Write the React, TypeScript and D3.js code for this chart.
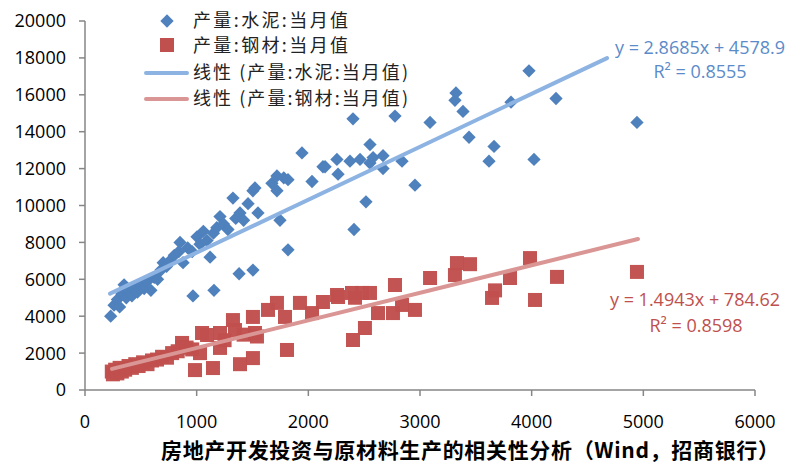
import * as d3 from 'd3'

// 水泥 (cement) monthly output vs investment
const cementX = [230, 260, 290, 310, 330, 350, 370, 390, 420, 440, 470, 500, 530, 560, 590, 620, 650, 680, 700, 730,
    760, 800, 840, 851, 878, 920, 960, 1003, 1030, 1060, 1093, 1120, 1150, 1180, 1209, 1240, 1280, 1325, 1350, 1388,
    1420, 1460, 1504, 1522, 1549, 1674, 1719, 1719, 1746, 1780, 1818, 1818, 1943, 2033, 2131, 2150, 2256, 2266, 2373, 2400,
    2409, 2463, 2516, 2552, 2552, 2580, 2669, 2669, 2776, 2839, 2955, 3090, 3313, 3322, 3385, 3439, 3618, 3663, 3815, 3976,
    4021, 4218, 4943, 967, 1155, 1380, 1504]
const cementY = [4000, 4600, 4900, 4500, 5200, 5700, 5000, 5400, 5100, 5500, 5300, 5700, 5500, 5900, 5400, 6100, 6000, 6500, 6900, 6700,
    7000, 7300, 7500, 8000, 6900, 7700, 7500, 8300, 7900, 8600, 8100, 7200, 8500, 8800, 9400, 9000, 8700, 10400, 9300, 9600,
    9200, 10100, 10800, 10950, 9600, 11200, 11600, 10800, 9200, 11500, 11400, 7600, 12850, 11300, 12100, 12100, 12500, 11700, 12400, 14700,
    8700, 12500, 10200, 13300, 12300, 12600, 12700, 12000, 14850, 12400, 11100, 14500, 15700, 16100, 15100, 13700, 12400, 13200, 15600, 17300,
    12500, 15800, 14500, 5100, 5400, 6300, 6500]

// 钢材 (steel)
const steelX = [240, 250, 270, 290, 310, 330, 360, 390, 420, 450, 480, 520, 560, 600, 645, 690, 734, 780, 830, 869,
    869, 910, 960, 985, 1030, 1048, 1093, 1146, 1209, 1209, 1250, 1325, 1343, 1388, 1420, 1504, 1504, 1522, 1540, 1639,
    1719, 1791, 1809, 1925, 2033, 2131, 2266, 2257, 2391, 2400, 2418, 2481, 2507, 2552, 2624, 2758, 2776, 2839, 2955, 3090,
    3313, 3331, 3448, 3645, 3672, 3806, 3985, 4030, 4227, 4943]
const steelY = [1000, 850, 1100, 900, 1200, 1000, 1100, 1300, 1200, 1400, 1300, 1500, 1400, 1600, 1650, 1800, 1750, 2000, 2100, 2330,
    2550, 2300, 2200, 1080, 2000, 3090, 2980, 1190, 2280, 3090, 2700, 3790, 3250, 1400, 3000, 1730, 3960, 3090, 2900, 4340,
    4720, 3960, 2170, 4720, 4170, 4770, 5040, 5150, 5260, 2710, 5000, 5260, 3360, 5260, 4170, 4170, 5690, 4610, 4340, 6070,
    6230, 6880, 6820, 4990, 5400, 6070, 7150, 4880, 6130, 6400]

// trend lines: y = a*x + b
const cementFit = [2.8685, 4578.9]
const steelFit = [1.4943, 784.62]
const cementFitRange = [224, 4675]
const steelFitRange = [242, 4952]

const xTicks = [0, 1000, 2000, 3000, 4000, 5000, 6000]
const yTicks = [0, 2000, 4000, 6000, 8000, 10000, 12000, 14000, 16000, 18000, 20000]

const legendLabels = ['产量:水泥:当月值', '产量:钢材:当月值', '线性 (产量:水泥:当月值)', '线性 (产量:钢材:当月值)']
const title = '房地产开发投资与原材料生产的相关性分析（Wind，招商银行）'

const W = 789
const H = 465
const blue = '#4F81BD'
const red = '#C0504D'
const blueLine = '#8DB3E2'
const redLine = '#DA9694'
const axisColor = '#868686'
const tickFont = '"Open Sans", "Liberation Sans", sans-serif'
const cjkFont = '"Noto Sans CJK SC", sans-serif'

export default function App() {
    const x = d3.scaleLinear().domain([0, 6000]).range([85, 755])
    const y = d3.scaleLinear().domain([0, 20000]).range([390, 21])

    const fitPath = (fit: number[], range: number[]) =>
        d3.line<number>().x(d => x(d)).y(d => y(fit[0] * d + fit[1]))(range)

    const diamond = d3.symbol().type(d3.symbolDiamond2).size(2 * 7.5 * 7.5)()

    const legendY = [21, 46, 73, 99]
    const legendLen = [155, 155, 215, 215]

    return (
        <svg width={W} height={H} style={{ position: 'absolute', left: 0, top: 0 }}>
            <rect width={W} height={H} fill="#fff" />

            {/* axes */}
            <g stroke={axisColor} strokeWidth={1.5}>
                <line x1={x(0)} x2={x(0)} y1={y(20000)} y2={y(0)} />
                <line x1={x(0)} x2={x(6000)} y1={y(0)} y2={y(0)} />
                {yTicks.map(t => <line key={'yt' + t} x1={x(0) - 6} x2={x(0)} y1={y(t)} y2={y(t)} />)}
                {xTicks.map(t => <line key={'xt' + t} x1={x(t)} x2={x(t)} y1={y(0)} y2={y(0) + 6} />)}
            </g>
            <g fontFamily={tickFont} fontSize={18} fill="#000">
                {yTicks.map(t => (
                    <text key={'yl' + t} x={66} y={y(t)} dy="0.36em" textAnchor="end">{t}</text>
                ))}
                {xTicks.map(t => (
                    <text key={'xl' + t} x={x(t)} y={428} textAnchor="middle">{t}</text>
                ))}
            </g>

            {/* points */}
            {cementX.map((d, i) => (
                <path key={'c' + i} d={diamond as string} fill={blue}
                    transform={`translate(${x(d)},${y(cementY[i])})`} />
            ))}
            {steelX.map((d, i) => (
                <rect key={'s' + i} x={x(d) - 7} y={y(steelY[i]) - 7} width={14} height={14} fill={red} fillOpacity={0.97} />
            ))}

            {/* trend lines */}
            <path d={fitPath(cementFit, cementFitRange) as string} stroke={blueLine} strokeWidth={4} fill="none" strokeLinecap="round" />
            <path d={fitPath(steelFit, steelFitRange) as string} stroke={redLine} strokeWidth={4} fill="none" strokeLinecap="round" />

            {/* equations */}
            <g fontFamily={tickFont} fontSize={18} textAnchor="middle">
                <text x={700} y={54} fill="#5B8BC9">y = 2.8685x + 4578.9</text>
                <text x={700} y={78} fill="#5B8BC9">R² = 0.8555</text>
                <text x={695} y={306} fill={red}>y = 1.4943x + 784.62</text>
                <text x={696} y={332} fill={red}>R² = 0.8598</text>
            </g>

            {/* legend */}
            <g fontFamily={cjkFont} fontSize={18} fill="#222">
                <path d={diamond as string} fill={blue} transform="translate(167,21)" />
                <rect x={160} y={38} width={14} height={14} fill={red} />
                <line x1={146} x2={187} y1={73} y2={73} stroke={blueLine} strokeWidth={4} strokeLinecap="round" />
                <line x1={146} x2={187} y1={99} y2={99} stroke={redLine} strokeWidth={4} strokeLinecap="round" />
                {legendLabels.map((t, i) => (
                    <text key={t} x={193} y={legendY[i]} dy="0.36em" textLength={legendLen[i]} lengthAdjust="spacing">{t}</text>
                ))}
            </g>

            <text x={470} y={458} textAnchor="middle" fontFamily={cjkFont} fontWeight="bold" fontSize={21}
                textLength={618} lengthAdjust="spacing" fill="#000">{title}</text>
        </svg>
    )
}
